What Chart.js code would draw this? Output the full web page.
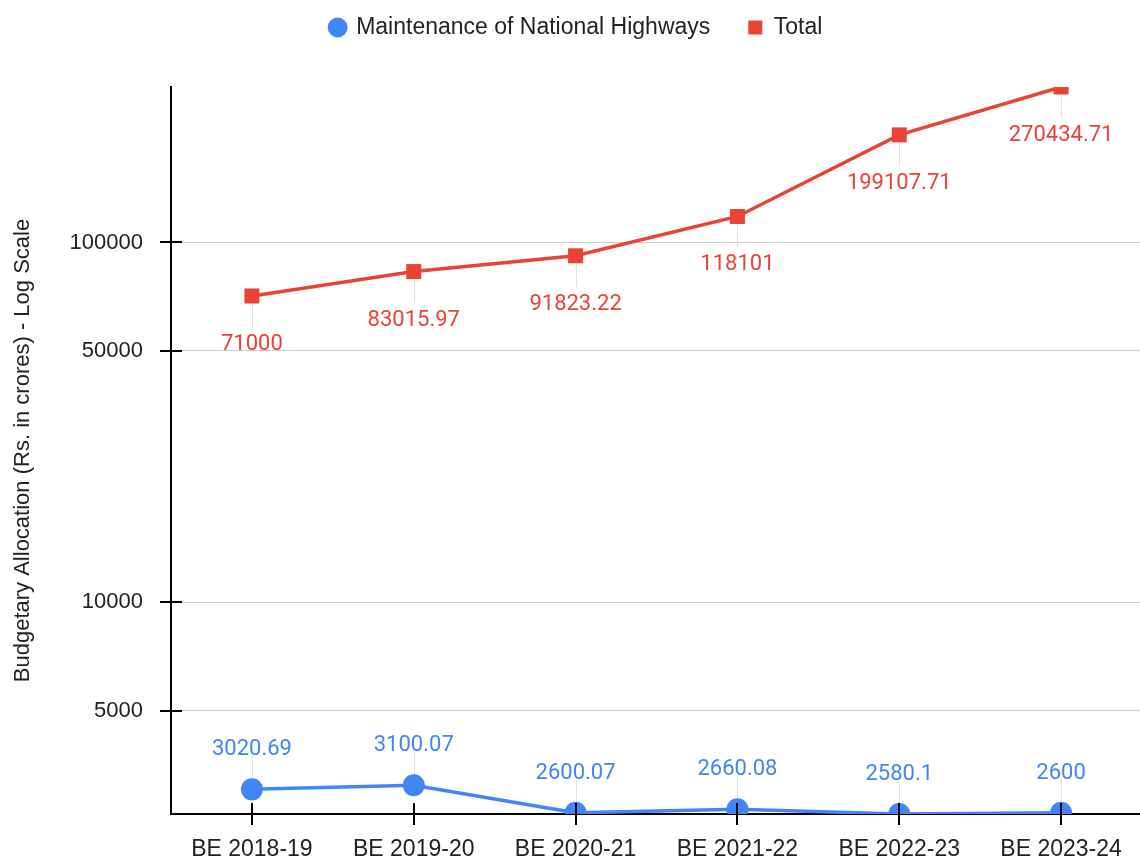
<!DOCTYPE html>
<html lang="en">
<head>
  <meta charset="UTF-8" />
  <title>Budgetary Allocation - Log Scale</title>
  <script src="https://cdn.jsdelivr.net/npm/chart.js"></script>
  <style>
    html, body {
      margin: 0;
      padding: 0;
      background: #fff;
      overflow: hidden;
    }
    .chart-container {
      width: 1153px;
      height: 858px;
      position: relative;
    }
  </style>
</head>
<body>
  <div class="chart-container">
    <canvas id="budgetChart"></canvas>
  </div>

  <script>
    // data
    const years = ['BE 2018-19', 'BE 2019-20', 'BE 2020-21', 'BE 2021-22', 'BE 2022-23', 'BE 2023-24'];
    const maintenance = [3020.69, 3100.07, 2600.07, 2660.08, 2580.1, 2600];
    const total = [71000, 83015.97, 91823.22, 118101, 199107.71, 270434.71];
    const yTicks = [5000, 10000, 50000, 100000];

    const BLUE = '#4285F4';
    const RED = '#EA4335';
    const TEXT = '#222';
    const FONT = "'Liberation Sans', Arial, sans-serif";

    // legend sits a bit higher, plot starts at y=87
    const legendSpace = {
      id: 'legendSpace',
      beforeInit(chart) {
        const fit = chart.legend.fit;
        chart.legend.fit = function () {
          fit.call(this);
          this.height = 109;
        };
      }
    };

    // value labels with thin leader lines
    const valueLabels = {
      id: 'valueLabels',
      beforeDatasetsDraw(chart) {
        const ctx = chart.ctx;
        ctx.save();
        ctx.strokeStyle = '#e0e0e0';
        ctx.lineWidth = 1;
        chart.data.datasets.forEach((ds, di) => {
          const below = di === 1;
          chart.getDatasetMeta(di).data.forEach(pt => {
            const x = Math.round(pt.x) + 0.5;
            ctx.beginPath();
            ctx.moveTo(x, pt.y);
            ctx.lineTo(x, below ? pt.y + 31 : pt.y - 33);
            ctx.stroke();
          });
        });
        ctx.restore();
      },
      afterDatasetsDraw(chart) {
        const ctx = chart.ctx;
        ctx.save();
        ctx.font = '22px Roboto';
        ctx.textAlign = 'center';
        ctx.textBaseline = 'alphabetic';
        chart.data.datasets.forEach((ds, di) => {
          const below = di === 1;
          ctx.fillStyle = ds.borderColor;
          chart.getDatasetMeta(di).data.forEach((pt, i) => {
            const y = below ? pt.y + 54 : pt.y - 34;
            ctx.fillText(String(ds.data[i]), pt.x, y);
          });
        });

        // tick marks crossing the axis lines
        const xs = chart.scales.x;
        const ys = chart.scales.y;
        ctx.strokeStyle = '#000';
        ctx.lineWidth = 2;
        ctx.beginPath();
        yTicks.forEach(v => {
          const y = Math.round(ys.getPixelForValue(v));
          ctx.moveTo(ys.right - 11, y);
          ctx.lineTo(ys.right + 11, y);
        });
        years.forEach((c, i) => {
          const x = Math.round(xs.getPixelForValue(i));
          ctx.moveTo(x, xs.top - 11);
          ctx.lineTo(x, xs.top + 11);
        });
        ctx.stroke();
        ctx.restore();
      }
    };

    new Chart(document.getElementById('budgetChart'), {
      type: 'line',
      data: {
        labels: years,
        datasets: [
          {
            label: 'Maintenance of National Highways',
            data: maintenance,
            borderColor: BLUE,
            backgroundColor: BLUE,
            borderWidth: 3.5,
            pointStyle: 'circle',
            pointRadius: 11,
            pointBorderWidth: 0,
            pointHoverRadius: 11,
            clip: 0
          },
          {
            label: 'Total',
            data: total,
            borderColor: RED,
            backgroundColor: RED,
            borderWidth: 3.5,
            pointStyle: 'rect',
            pointRadius: 10.6,
            pointBorderWidth: 0,
            pointHoverRadius: 10.6,
            clip: 0
          }
        ]
      },
      options: {
        responsive: true,
        maintainAspectRatio: false,
        animation: false,
        layout: { padding: { top: -22, left: 0, right: 0, bottom: 0 } },
        plugins: {
          legend: {
            position: 'top',
            labels: {
              usePointStyle: true,
              boxHeight: 14,
              boxWidth: 14,
              padding: 38,
              color: TEXT,
              font: { family: FONT, size: 23 }
            }
          },
          tooltip: { enabled: false }
        },
        scales: {
          x: {
            offset: true,
            grid: { display: false, drawTicks: false },
            border: { display: true, color: '#000', width: 2 },
            ticks: {
              color: TEXT,
              padding: 22,
              maxRotation: 0,
              font: { family: FONT, size: 23 }
            },
            afterFit(scale) { scale.height = 44; }
          },
          y: {
            type: 'logarithmic',
            min: 2580.1,
            max: 270434.71,
            grid: { color: '#cccccc', lineWidth: 1, drawTicks: false },
            border: { display: true, color: '#000', width: 2 },
            ticks: {
              color: TEXT,
              padding: 28,
              font: { family: FONT, size: 22 },
              callback: v => String(v)
            },
            afterBuildTicks(scale) {
              scale.ticks = yTicks.map(v => ({ value: v }));
            },
            afterFit(scale) { scale.width = 171; },
            title: {
              display: true,
              text: 'Budgetary Allocation (Rs. in crores) - Log Scale',
              color: TEXT,
              padding: { top: 10, bottom: 0 },
              font: { family: FONT, size: 22 }
            }
          }
        }
      },
      plugins: [legendSpace, valueLabels]
    });
  </script>
</body>
</html>
